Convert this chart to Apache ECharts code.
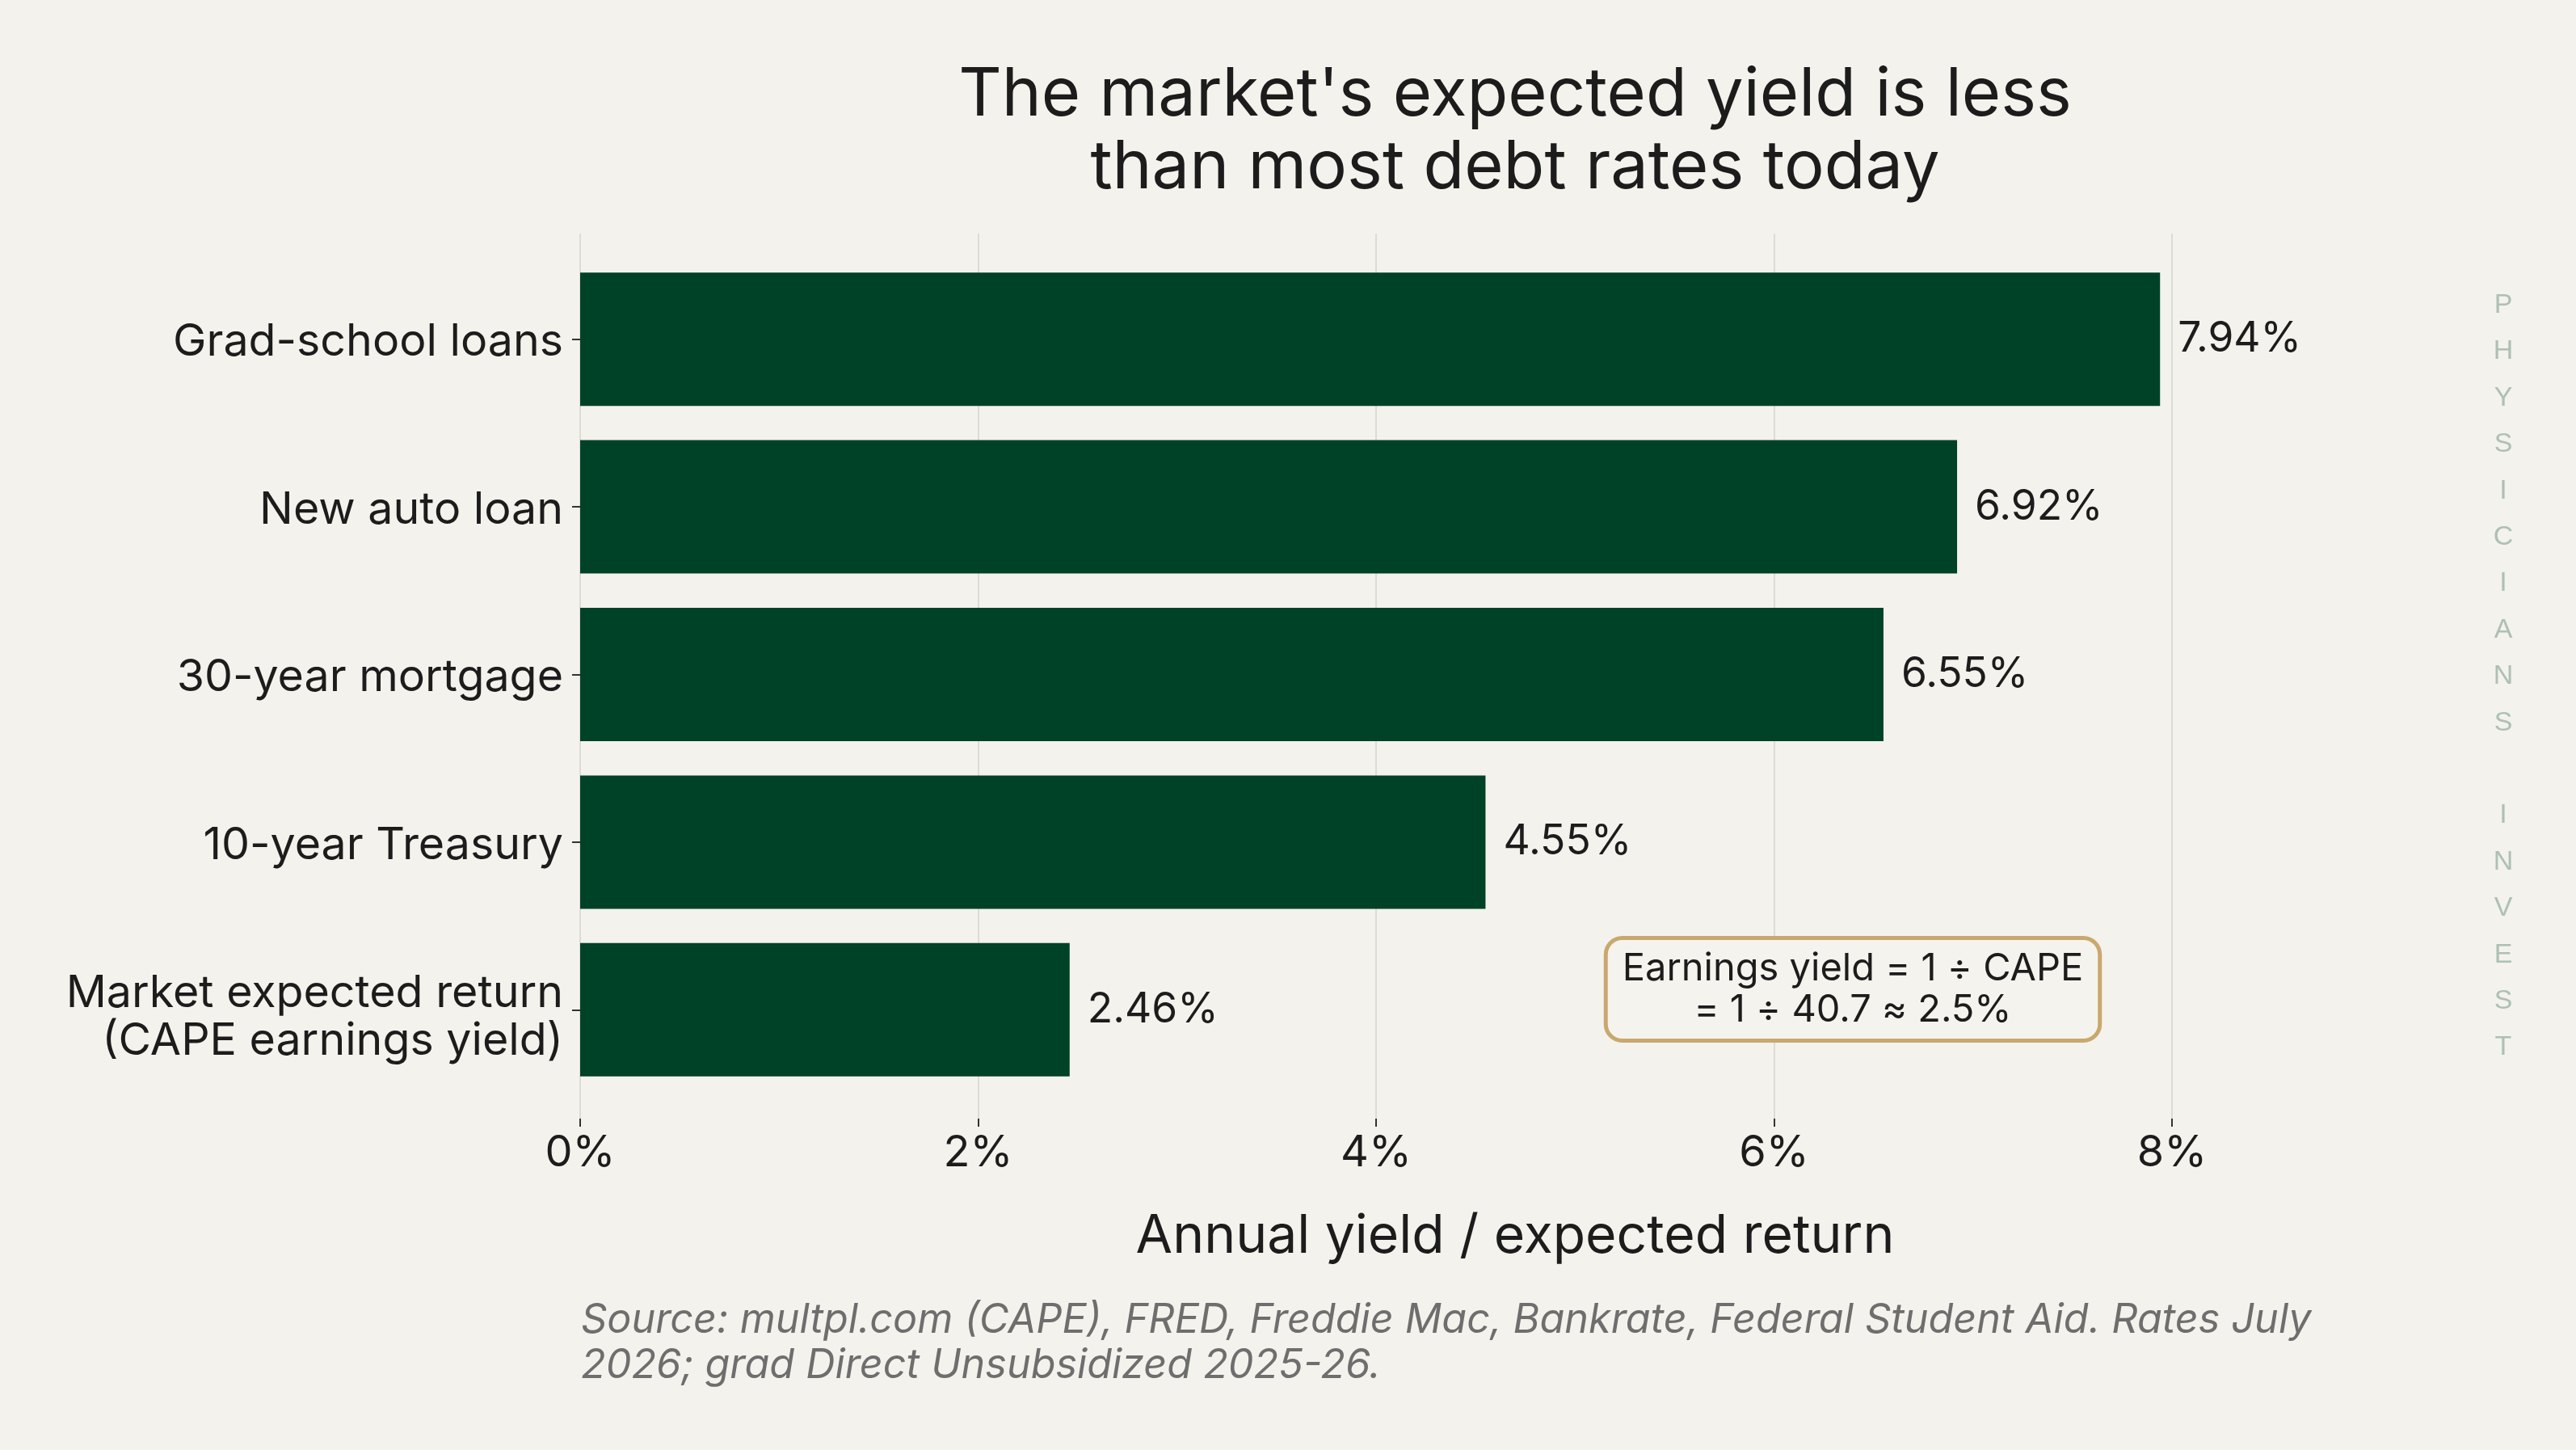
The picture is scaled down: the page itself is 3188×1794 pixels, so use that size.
<!DOCTYPE html>
<html>
<head>
<meta charset="utf-8">
<script src="https://cdn.jsdelivr.net/npm/echarts@6/dist/echarts.min.js"></script>
<style>
html, body {margin: 0; padding: 0; background: #F4F2ED;}
#chart {width: 3188px; height: 1794px;}
</style>
</head>
<body>
<div id="chart"></div>
<script>
// data
var categories = ['Grad-school loans', 'New auto loan', '30-year mortgage', '10-year Treasury', 'Market expected return\n(CAPE earnings yield)'];
var rates = [7.94, 6.92, 6.55, 4.55, 2.46];
var xTicks = [0, 2, 4, 6, 8];
var watermark = 'PHYSICIANS INVEST';

var font = 'Inter';
var ink = '#1C1C1C';
var catStyle = {fontFamily: font, fontSize: 55.5, color: ink, lineHeight: 59};

var chart = echarts.init(document.getElementById('chart'));

// category labels sit a bit below the tick, like the original
function catLabel(v) {
    var lines = v.split('\n');
    if (lines.length === 1) return '{s|' + v + '}';
    return '{m|' + lines[0] + '}\n{n|' + lines[1] + '}';
}

var option = {
    backgroundColor: '#F4F2ED',
    animation: false,
    textStyle: {fontFamily: font},
    title: [
        {
            text: "The market's expected yield is less\nthan most debt rates today",
            left: 1870, top: 68, textAlign: 'center',
            textStyle: {fontFamily: font, fontSize: 83, fontWeight: 'normal', color: ink, lineHeight: 90}
        },
        {
            text: 'Annual yield / expected return',
            left: 1870, top: 1492, textAlign: 'center',
            textStyle: {fontFamily: font, fontSize: 66, fontWeight: 'normal', color: ink}
        },
        {
            text: 'Source: multpl.com (CAPE), FRED, Freddie Mac, Bankrate, Federal Student Aid. Rates July\n2026; grad Direct Unsubsidized 2025-26.',
            left: 714, top: 1601,
            textStyle: {fontFamily: font, fontSize: 50.3, fontStyle: 'italic', fontWeight: 'normal', color: '#6E6E6E', lineHeight: 56}
        },
        {
            text: watermark.split('').join('\n'),
            left: 3093, top: 344, textAlign: 'center',
            textStyle: {fontFamily: 'Liberation Sans', fontSize: 34, fontWeight: 'normal', color: '#ADC1B3', lineHeight: 57.4}
        }
    ],
    grid: [
        {left: 718, top: 316, width: 1970, height: 1037},
        {left: 718, top: 289, width: 1970, height: 1095}
    ],
    xAxis: [
        {gridIndex: 0, type: 'value', min: xTicks[0], max: xTicks[xTicks.length - 1], show: false},
        {
            gridIndex: 1, type: 'value',
            min: xTicks[0], max: xTicks[xTicks.length - 1], interval: xTicks[1] - xTicks[0],
            axisLine: {show: false},
            axisTick: {show: true, length: 10, lineStyle: {color: '#333333', width: 2}},
            axisLabel: {formatter: '{value}%', fontFamily: font, fontSize: 54, color: ink, margin: 16},
            splitLine: {show: true, lineStyle: {color: '#DEDBD5', width: 2}}
        }
    ],
    yAxis: [
        {
            gridIndex: 0, type: 'category', data: categories, inverse: true,
            axisLine: {show: false},
            axisTick: {show: true, alignWithLabel: true, length: 10, lineStyle: {color: '#333333', width: 2}},
            axisLabel: {
                fontFamily: font, fontSize: 55.5, color: ink, margin: 21, lineHeight: 59, align: 'right',
                formatter: catLabel,
                rich: {
                    s: Object.assign({padding: [8, 0, 0, 0]}, catStyle),
                    m: Object.assign({padding: [20, 0, 0, 0]}, catStyle),
                    n: Object.assign({padding: [20, 0, 0, 0]}, catStyle)
                }
            }
        },
        {gridIndex: 1, type: 'value', show: false, min: 0, max: 1}
    ],
    series: [
        {
            type: 'bar',
            xAxisIndex: 0, yAxisIndex: 0,
            data: rates,
            barWidth: 165,
            itemStyle: {color: '#004227'},
            label: {
                show: true, position: 'right', distance: 22,
                formatter: function (p) { return p.value.toFixed(2) + '%'; },
                fontFamily: font, fontSize: 51.5, color: ink
            },
            z: 3
        }
    ],
    graphic: [
        {
            type: 'text',
            x: 2293, y: 1224, z: 10,
            style: {
                text: 'Earnings yield = 1 ÷ CAPE\n= 1 ÷ 40.7 ≈ 2.5%',
                fontFamily: font, fontSize: 47, lineHeight: 51,
                fill: ink, align: 'center', verticalAlign: 'middle',
                backgroundColor: '#F5F3EE',
                borderColor: '#C9A86F', borderWidth: 5, borderRadius: 18,
                padding: [10, 18, 10, 18]
            }
        }
    ]
};

chart.setOption(option);
</script>
</body>
</html>
